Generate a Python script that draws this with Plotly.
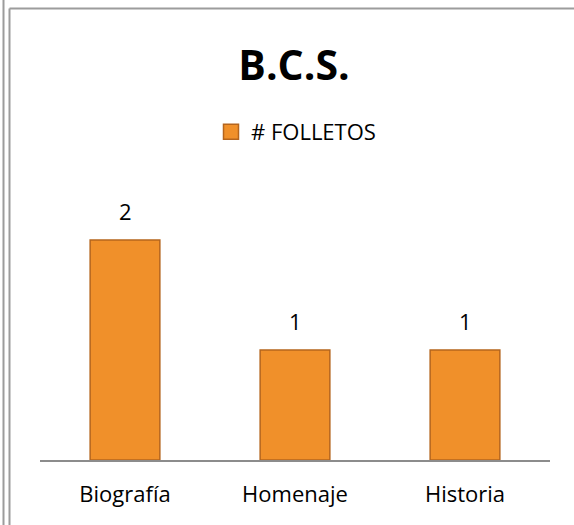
import plotly.graph_objects as go

categories = ["Biografía", "Homenaje", "Historia"]
folletos = [2, 1, 1]
series_name = "# FOLLETOS"
title_text = "B.C.S."

W, H = 574, 525
L, R, T, B = 40, 24, 185, 65
pw = W - L - R
ph = H - T - B

def px(x):
    return (x - L) / pw

def py(y):
    return 1 - (y - T) / ph

FONT = "Open Sans"
BAR_COL = "#F0902A"
BAR_EDGE = "#B5651D"

fig = go.Figure()
fig.add_trace(go.Bar(
    x=categories, y=folletos, name=series_name, showlegend=False,
    marker=dict(color=BAR_COL, line=dict(color=BAR_EDGE, width=1.5)),
    hoverinfo="x+y",
))
# legend entry with a larger square swatch
fig.add_trace(go.Scatter(
    x=[None], y=[None], mode="markers", name=series_name,
    marker=dict(symbol="square", size=15, color=BAR_COL, line=dict(color=BAR_EDGE, width=1.5)),
))

# data labels
for c, v in zip(categories, folletos):
    fig.add_annotation(x=c, y=v, xref="x", yref="y", text=str(v), showarrow=False,
                       yanchor="bottom", yshift=12,
                       font=dict(family=FONT, size=22, color="#000000"))

line_col = "#9C9C9C"
shapes = [
    dict(type="line", xref="paper", yref="paper", x0=px(3.5), x1=px(3.5), y0=py(-5), y1=py(530),
         line=dict(color=line_col, width=2)),
    dict(type="line", xref="paper", yref="paper", x0=px(9.5), x1=px(9.5), y0=py(8.5), y1=py(530),
         line=dict(color=line_col, width=2)),
    dict(type="line", xref="paper", yref="paper", x0=px(9.5), x1=px(580), y0=py(8.5), y1=py(8.5),
         line=dict(color=line_col, width=2)),
]

fig.update_layout(
    width=W, height=H,
    margin=dict(l=L, r=R, t=T, b=B),
    paper_bgcolor="white", plot_bgcolor="white",
    title=dict(text="<b>" + title_text + "</b>", x=px(294), xref="paper", xanchor="center",
               y=1 - 66 / H, yref="container", yanchor="middle",
               font=dict(family=FONT, size=41, color="#000000")),
    bargap=0.59,
    showlegend=True,
    legend=dict(orientation="h", x=px(211), xanchor="left", y=1 - 132 / H, yref="container",
                yanchor="middle", font=dict(family=FONT, size=22, color="#000000"),
                bgcolor="rgba(0,0,0,0)"),
    xaxis=dict(showline=True, linecolor="#8C8C8C", linewidth=1.5, ticks="",
               tickfont=dict(family=FONT, size=22, color="#000000"), showgrid=False,
               ticklabelstandoff=14, fixedrange=True),
    yaxis=dict(range=[0, 2.5], visible=False, showgrid=False, fixedrange=True),
    shapes=shapes,
)

fig.write_html("out.html", config={"displayModeBar": False},
               post_script="document.body.style.margin='0';document.body.style.padding='0';")
